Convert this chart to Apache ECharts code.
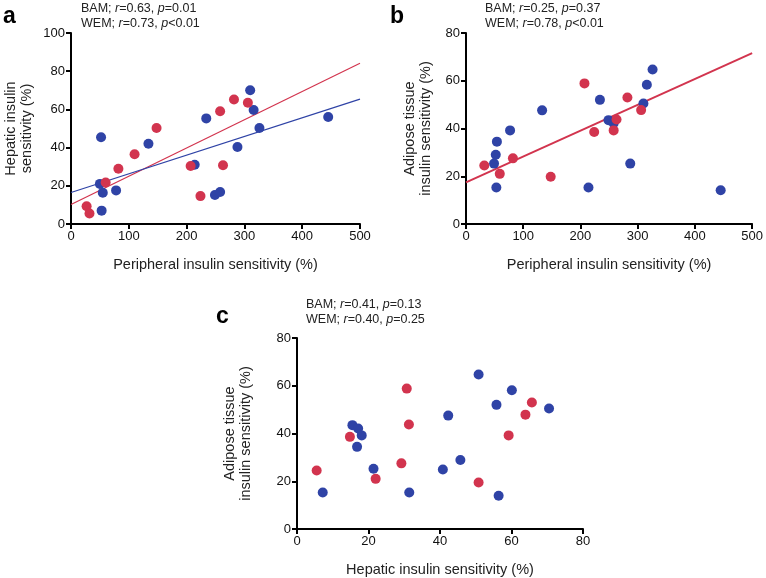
<!DOCTYPE html>
<html>
<head>
<meta charset="utf-8">
<script src="https://cdn.jsdelivr.net/npm/echarts@6/dist/echarts.min.js"></script>
<style>
  html, body { margin: 0; padding: 0; background: #fff; }
  #chart { width: 766px; height: 578px; }
</style>
</head>
<body>
<div id="chart"></div>
<script>
// panel a: peripheral vs hepatic
const aBlue = [[52,45.4],[50,21],[55,16.4],[53,7],[78,17.6],[134,42],[234,55.3],[214,31],[249,15.2],[258,16.8],[288,40.3],[310,70],[316,59.7],[326,50.3],[445,56]];
const aRed = [[27,9.3],[32,5.5],[60,21.7],[82,28.9],[110,36.5],[148,50.3],[207,30.4],[224,14.6],[258,59],[263,30.8],[282,65.2],[306,63.5]];
const aBlueFit = [[0,16.5],[500,65.4]];
const aRedFit = [[0,10.2],[500,84.2]];

// panel b: peripheral vs adipose
const bBlue = [[49,25.3],[52,29],[54,34.5],[53,15.3],[77,39.2],[133,47.6],[214,15.3],[234,52],[249,43.5],[258,42.2],[287,25.3],[310,50.5],[316,58.3],[326,64.7],[445,14.1]];
const bRed = [[32,24.5],[59,21],[82,27.5],[148,19.8],[207,58.9],[224,38.5],[258,39.2],[263,43.8],[282,53],[306,47.7]];
const bRedFit = [[0,17.4],[500,71.6]];

// panel c: hepatic vs adipose
const cBlue = [[7.2,15.3],[15.5,43.5],[17.1,42.1],[18.1,39.2],[16.8,34.4],[21.4,25.2],[31.4,15.3],[40.8,24.9],[42.3,47.5],[45.7,28.9],[50.8,64.7],[55.8,52],[56.4,13.9],[60.1,58.1],[70.5,50.5]];
const cRed = [[5.5,24.5],[14.8,38.6],[22,21],[29.2,27.5],[30.7,58.8],[31.3,43.8],[50.8,19.5],[59.2,39.2],[63.9,47.9],[65.7,53]];

const stats = {
  a: [["BAM", "0.63", "=0.01"], ["WEM", "0.73", "<0.01"]],
  b: [["BAM", "0.25", "=0.37"], ["WEM", "0.78", "<0.01"]],
  c: [["BAM", "0.41", "=0.13"], ["WEM", "0.40", "=0.25"]]
};

const BLUE = "#2f43a6";
const RED = "#d2344e";
const FONT = "Liberation Sans";

const chart = echarts.init(document.getElementById("chart"), null, { renderer: "canvas" });

function xAxis(gridIndex, max, interval, name) {
  return {
    gridIndex, type: "value", min: 0, max, interval,
    name, nameLocation: "middle", nameGap: 33,
    nameTextStyle: { fontFamily: FONT, fontSize: 14.5, color: "#222" },
    axisLine: { lineStyle: { color: "#000", width: 2 } },
    axisTick: { inside: false, length: 5, lineStyle: { color: "#000", width: 2 } },
    axisLabel: { fontFamily: FONT, fontSize: 13, color: "#111", margin: 6 },
    splitLine: { show: false }
  };
}
function yAxis(gridIndex, max, interval, name, gap) {
  return {
    gridIndex, type: "value", min: 0, max, interval,
    name, nameLocation: "middle", nameGap: gap, nameRotate: 90,
    nameTextStyle: { fontFamily: FONT, fontSize: 14.5, color: "#222", lineHeight: 16 },
    axisLine: { show: true, lineStyle: { color: "#000", width: 2 } },
    axisTick: { show: true, inside: false, length: 5, lineStyle: { color: "#000", width: 2 } },
    axisLabel: { fontFamily: FONT, fontSize: 13, color: "#111", margin: 6 },
    splitLine: { show: false }
  };
}
function scatter(idx, data, color) {
  return {
    type: "scatter", xAxisIndex: idx, yAxisIndex: idx, data,
    symbolSize: 10, itemStyle: { color, opacity: 1 }, z: 3
  };
}
function fit(idx, data, color, width) {
  return {
    type: "line", xAxisIndex: idx, yAxisIndex: idx, data,
    symbol: "none", lineStyle: { color, width }, z: 2, silent: true
  };
}
function statTitle(rows, left, top) {
  const text = rows.map(r => r[0] + "; {i|r}=" + r[1] + ", {i|p}" + r[2]).join("\n");
  return {
    text, left, top, padding: 0,
    textStyle: {
      fontFamily: FONT, fontSize: 12.5, fontWeight: "normal", color: "#222", lineHeight: 15,
      rich: { i: { fontFamily: FONT, fontSize: 12.5, fontStyle: "italic", color: "#222" } }
    }
  };
}
function letter(t, left, top) {
  return { text: t, left, top, padding: 0, textStyle: { fontFamily: FONT, fontSize: 23, fontWeight: "bold", color: "#000" } };
}

chart.setOption({
  animation: false,
  backgroundColor: "#fff",
  title: [
    letter("a", 3, 5), letter("b", 390, 5), letter("c", 216, 305),
    statTitle(stats.a, 81, 1), statTitle(stats.b, 485, 1), statTitle(stats.c, 306, 297)
  ],
  grid: [
    { left: 71, top: 33, width: 289, height: 191 },
    { left: 466, top: 33, width: 289, height: 191 },
    { left: 297, top: 338, width: 286, height: 191 }
  ],
  xAxis: [
    xAxis(0, 500, 100, "Peripheral insulin sensitivity (%)"),
    xAxis(1, 500, 100, "Peripheral insulin sensitivity (%)"),
    xAxis(2, 80, 20, "Hepatic insulin sensitivity (%)")
  ],
  yAxis: [
    yAxis(0, 100, 20, "Hepatic insulin\nsensitivity (%)", 36),
    yAxis(1, 80, 20, "Adipose tissue\ninsulin sensitivity (%)", 32),
    yAxis(2, 80, 20, "Adipose tissue\ninsulin sensitivity (%)", 43)
  ],
  series: [
    fit(0, aRedFit, RED, 1.2),
    fit(0, aBlueFit, BLUE, 1.2),
    scatter(0, aBlue, BLUE),
    scatter(0, aRed, RED),
    fit(1, bRedFit, RED, 2),
    scatter(1, bBlue, BLUE),
    scatter(1, bRed, RED),
    scatter(2, cBlue, BLUE),
    scatter(2, cRed, RED)
  ]
});
</script>
</body>
</html>
